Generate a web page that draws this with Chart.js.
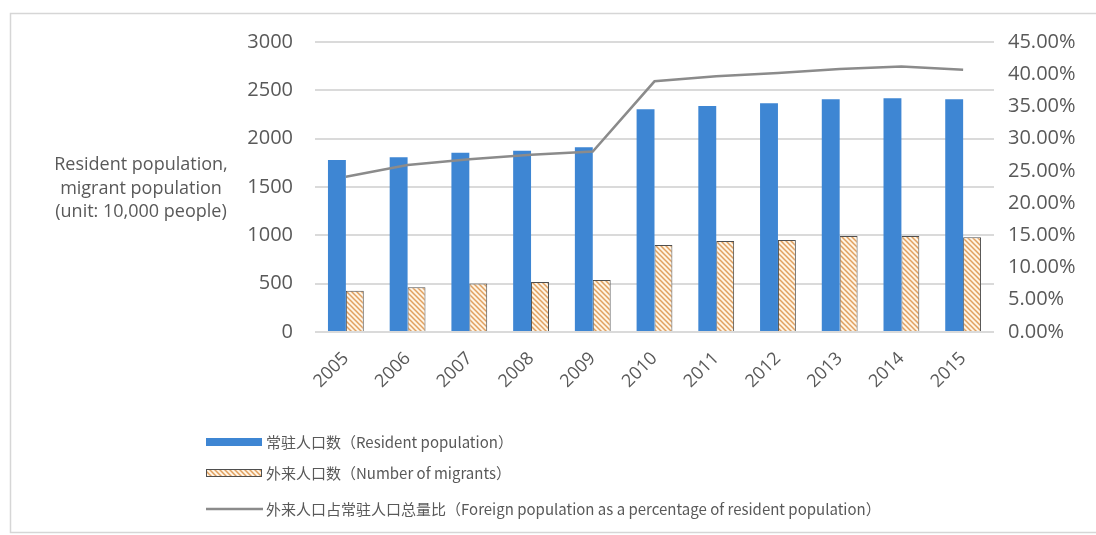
<!DOCTYPE html>
<html>
<head>
<meta charset="utf-8">
<script src="https://cdn.jsdelivr.net/npm/chart.js@4/dist/chart.umd.min.js"></script>
<style>
  html, body { margin: 0; padding: 0; background: #fff; }
  #wrap { position: relative; width: 1096px; height: 535px; }
</style>
</head>
<body>
<div id="wrap"><canvas id="popChart" width="1096" height="535"></canvas></div>
<script>
// --- DATA ---
const years = ['2005', '2006', '2007', '2008', '2009', '2010', '2011', '2012', '2013', '2014', '2015'];
const residentPop = [1779, 1807, 1855, 1876, 1910, 2304, 2338, 2366, 2407, 2417, 2407];
const migrantPop = [427, 462, 503, 517, 538, 900, 941, 952, 993, 993, 980];
const migrantShare = [24.1, 25.9, 26.8, 27.5, 28.0, 38.9, 39.7, 40.2, 40.8, 41.2, 40.7];

const leftTitle = ['Resident population,', 'migrant population', '(unit: 10,000 people)'];
const labelResident = '常驻人口数（Resident population）';
const labelMigrant = '外来人口数（Number of migrants）';
const labelShare = '外来人口占常驻人口总量比（Foreign population as a percentage of resident population）';

// --- COLOURS ---
const BLUE = '#3e86d3';
const LINE_GREY = '#8b8b8b';
const GRID = '#dadada';
const TEXT = '#595959';

// hatched fill for the migrant bars
function makeHatch() {
    const c = document.createElement('canvas');
    c.width = 5; c.height = 5;
    const g = c.getContext('2d');
    g.fillStyle = '#fff4e4';
    g.fillRect(0, 0, 5, 5);
    g.strokeStyle = '#e0a060';
    g.lineWidth = 1.5;
    g.beginPath();
    g.moveTo(-1, -1); g.lineTo(6, 6);
    g.moveTo(-4, 1); g.lineTo(4, 9);
    g.moveTo(1, -4); g.lineTo(9, 4);
    g.stroke();
    return g.createPattern(c, 'repeat');
}
const hatch = makeHatch();

// frame + white background
const framePlugin = {
    id: 'frame',
    beforeDraw(chart) {
        const ctx = chart.ctx;
        ctx.save();
        ctx.fillStyle = '#fff';
        ctx.fillRect(0, 0, chart.width, chart.height);
        ctx.strokeStyle = '#d6d6d6';
        ctx.lineWidth = 1.5;
        ctx.strokeRect(10.5, 13.5, 1100, 519);
        ctx.restore();
    }
};

// horizontal left-axis title
const leftTitlePlugin = {
    id: 'leftTitle',
    afterDraw(chart) {
        const ctx = chart.ctx;
        ctx.save();
        ctx.font = '18px "Open Sans"';
        ctx.fillStyle = TEXT;
        ctx.textAlign = 'center';
        ctx.textBaseline = 'middle';
        leftTitle.forEach((t, i) => ctx.fillText(t, 141, 165 + i * 23.5));
        ctx.restore();
    }
};

// stacked legend under the axis
const legendPlugin = {
    id: 'stackLegend',
    afterDraw(chart) {
        const ctx = chart.ctx;
        const rows = [442, 473, 509];
        const maxW = [262, 248, 645];
        ctx.save();
        ctx.font = '15px "Noto Sans CJK SC"';
        ctx.textBaseline = 'middle';
        chart.data.datasets.forEach((ds, i) => {
            const y = rows[i];
            if (ds.type === 'line') {
                ctx.strokeStyle = ds.borderColor;
                ctx.lineWidth = 2.5;
                ctx.beginPath();
                ctx.moveTo(206, y); ctx.lineTo(263, y);
                ctx.stroke();
            } else {
                ctx.fillStyle = ds.backgroundColor;
                ctx.fillRect(206, y - 4, 56, 8);
                if (ds.borderWidth) {
                    ctx.strokeStyle = ds.borderColor;
                    ctx.lineWidth = 1;
                    ctx.strokeRect(206.5, y - 3.5, 55, 7);
                }
            }
            ctx.fillStyle = TEXT;
            ctx.fillText(ds.label, 266, y, maxW[i]);
        });
        ctx.restore();
    }
};

// --- CHART ---
const ctx = document.getElementById('popChart').getContext('2d');
new Chart(ctx, {
    data: {
        labels: years,
        datasets: [
            {
                type: 'bar', label: labelResident, data: residentPop,
                backgroundColor: BLUE, borderWidth: 0, yAxisID: 'y', order: 1,
                categoryPercentage: 0.58, barPercentage: 1
            },
            {
                type: 'bar', label: labelMigrant, data: migrantPop,
                backgroundColor: hatch, borderColor: '#4f4f4f', borderWidth: 1,
                yAxisID: 'y', order: 2,
                categoryPercentage: 0.58, barPercentage: 1
            },
            {
                type: 'line', label: labelShare, data: migrantShare,
                borderColor: LINE_GREY, borderWidth: 2.5, pointRadius: 0,
                tension: 0, yAxisID: 'y1', order: 0
            }
        ]
    },
    options: {
        responsive: false,
        animation: false,
        layout: { padding: { top: 42, left: 0, right: 0, bottom: 0 } },
        plugins: { legend: { display: false }, tooltip: { enabled: false } },
        scales: {
            x: {
                grid: { display: false },
                border: { display: false },
                ticks: {
                    color: TEXT, font: { family: 'Open Sans', size: 18 },
                    minRotation: 45, maxRotation: 45, padding: 8
                },
                afterFit(scale) { scale.height = 203; }
            },
            y: {
                position: 'left', min: 0, max: 3000,
                grid: { color: GRID, lineWidth: 2, drawTicks: false },
                border: { display: false },
                ticks: {
                    stepSize: 500, color: TEXT, padding: 22,
                    font: { family: 'Open Sans', size: 20 },
                    callback: v => String(v)
                },
                afterFit(scale) { scale.width = 315; }
            },
            y1: {
                position: 'right', min: 0, max: 45,
                grid: { display: false, drawTicks: false },
                border: { display: false },
                ticks: {
                    stepSize: 5, color: TEXT, padding: 14,
                    font: { family: 'Open Sans', size: 20 },
                    callback: v => v.toFixed(2) + '%'
                },
                afterFit(scale) { scale.width = 102; }
            }
        }
    },
    plugins: [framePlugin, leftTitlePlugin, legendPlugin]
});
</script>
</body>
</html>
